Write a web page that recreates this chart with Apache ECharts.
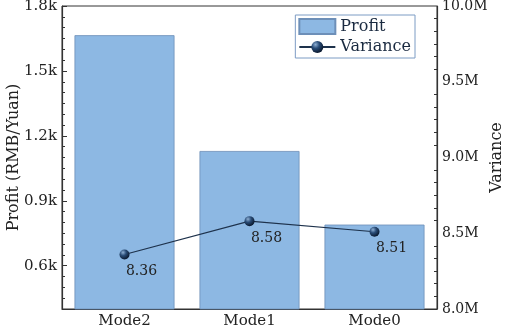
<!DOCTYPE html>
<html>
<head>
<meta charset="utf-8">
<script src="https://cdn.jsdelivr.net/npm/echarts@6/dist/echarts.min.js"></script>
<style>
  html, body { margin: 0; padding: 0; background: #fff; }
  #chart { width: 505px; height: 331px; }
</style>
</head>
<body>
<div id="chart"></div>
<script>
// chart data
const modes = ['Mode2', 'Mode1', 'Mode0']
const profit = [1665, 1130, 790]
const variance = [8.36e6, 8.58e6, 8.51e6]
const profitTicks = [600, 900, 1200, 1500, 1800]

const font = 'DejaVu Serif'
const axisColor = '#333'

const chart = echarts.init(document.getElementById('chart'))

const option = {
  animation: false,
  textStyle: { fontFamily: font },
  grid: {
    left: 62, right: 68, top: 6, bottom: 22,
    outerBoundsMode: 'none',
    containLabel: false,
    show: true, borderColor: axisColor, borderWidth: 1
  },
  legend: {
    orient: 'vertical',
    right: 90,
    top: 15,
    borderColor: '#7d9cc4',
    borderWidth: 1,
    borderRadius: 0,
    padding: [3, 4, 3, 3],
    itemGap: 4,
    itemWidth: 36,
    itemHeight: 15,
    textStyle: { fontFamily: font, fontSize: 16, color: '#1a2a40' },
    data: [{ name: 'Profit', icon: 'rect' }, { name: 'Variance' }]
  },
  xAxis: {
    type: 'category',
    data: modes,
    axisLine: { lineStyle: { color: axisColor, width: 1.2 } },
    axisTick: { inside: true, alignWithLabel: true, length: 5, lineStyle: { color: axisColor } },
    axisLabel: { color: '#222', fontSize: 15, margin: 5, fontFamily: font }
  },
  yAxis: [
    {
      type: 'value',
      name: 'Profit (RMB/Yuan)',
      nameLocation: 'middle',
      nameGap: 40,
      nameMoveOverlap: false,
      nameTextStyle: { fontSize: 16, color: '#222', fontFamily: font },
      min: 400, max: 1800,
      position: 'left',
      axisLine: { show: true, lineStyle: { color: axisColor, width: 1.2 } },
      axisTick: { show: true, inside: true, length: 5, customValues: profitTicks, lineStyle: { color: axisColor } },
      axisLabel: {
        customValues: profitTicks,
        color: '#222', fontSize: 15, fontFamily: font, margin: 5,
        formatter: v => (v / 1000).toFixed(1) + 'k'
      },
      splitLine: { show: false }
    },
    {
      type: 'value',
      name: 'Variance',
      nameLocation: 'middle',
      nameGap: 52,
      nameMoveOverlap: false,
      nameTextStyle: { fontSize: 16, color: '#222', fontFamily: font },
      min: 8e6, max: 10e6, interval: 0.5e6,
      position: 'right',
      axisLine: { show: true, lineStyle: { color: axisColor, width: 1.2 } },
      axisTick: { inside: true, length: 5, lineStyle: { color: axisColor } },
      minorTick: { show: true, splitNumber: 6, length: 3, lineStyle: { color: axisColor } },
      axisLabel: {
        color: '#222', fontSize: 14, fontFamily: font, margin: 5,
        formatter: v => (v / 1e6).toFixed(1) + 'M'
      },
      splitLine: { show: false }
    },
    {
      // minor ticks for the profit axis
      type: 'value',
      min: 400, max: 1800, interval: 50,
      position: 'left',
      axisLine: { show: false },
      axisTick: { show: true, inside: true, length: 3, lineStyle: { color: axisColor } },
      axisLabel: { show: false },
      splitLine: { show: false }
    }
  ],
  series: [
    {
      name: 'Profit',
      type: 'bar',
      yAxisIndex: 0,
      barWidth: '80%',
      data: profit,
      itemStyle: { color: '#8db8e3', borderColor: '#6d8fb8', borderWidth: 0.8 },
      z: 1
    },
    {
      name: 'Variance',
      type: 'line',
      yAxisIndex: 1,
      data: variance,
      symbol: 'circle',
      symbolSize: 10,
      lineStyle: { color: '#1e324c', width: 1.2 },
      itemStyle: {
        color: new echarts.graphic.RadialGradient(0.35, 0.3, 0.7, [
          { offset: 0, color: '#8fb0d4' },
          { offset: 0.45, color: '#2a4d78' },
          { offset: 1, color: '#0b1a30' }
        ]),
        borderWidth: 0
      },
      label: {
        show: true,
        position: 'bottom',
        offset: [17, 0],
        fontSize: 14,
        fontFamily: font,
        color: '#222',
        formatter: p => (p.value / 1e6).toFixed(2)
      },
      z: 3
    }
  ]
}

chart.setOption(option)
</script>
</body>
</html>
